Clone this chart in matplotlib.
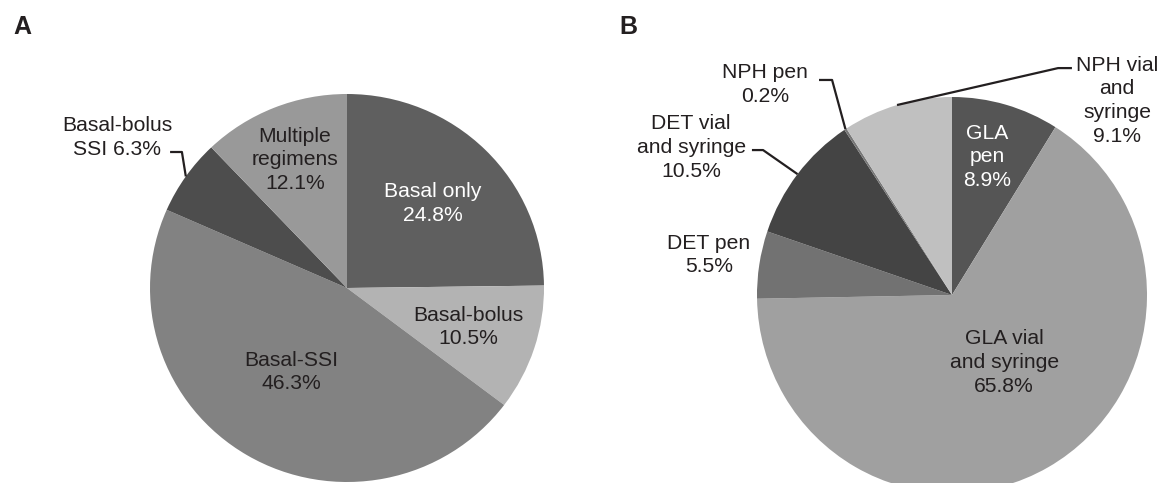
import numpy as np
import matplotlib
matplotlib.use("Agg")
import matplotlib.pyplot as plt

plt.rcParams['font.family'] = ['Liberation Sans', 'DejaVu Sans']

# ---- data ----
a_labels = ["Basal only", "Basal-bolus", "Basal-SSI", "Basal-bolus\nSSI", "Multiple\nregimens"]
a_values = [24.8, 10.5, 46.3, 6.3, 12.1]
a_colors = ["#5f5f5f", "#b3b3b3", "#828282", "#4d4d4d", "#999999"]

b_labels = ["GLA\npen", "GLA vial\nand syringe", "DET pen", "DET vial\nand syringe", "NPH pen", "NPH vial\nand\nsyringe"]
b_values = [8.9, 65.8, 5.5, 10.5, 0.2, 9.1]
b_colors = ["#555555", "#a0a0a0", "#727272", "#444444", "#777777", "#c0c0c0"]

FS = 15.2
LS = 1.33
TXT = "#231f20"

fig = plt.figure(figsize=(11.61, 4.83), dpi=100)

def pie_axes(rect, values, colors):
    ax = fig.add_axes(rect)
    wedges, _ = ax.pie(values, colors=colors, startangle=90, counterclock=False,
                       radius=1, wedgeprops=dict(linewidth=0))
    ax.set_xlim(-1, 1)
    ax.set_ylim(-1, 1)
    ax.set_aspect('auto')
    ax.axis('off')
    return ax, wedges

def mid_edge(w):
    th = np.deg2rad((w.theta1 + w.theta2) / 2)
    return np.cos(th), np.sin(th)

def lab(ax, x, y, s, color=TXT):
    ax.text(x, y, s, color=color, ha="center", va="center", fontsize=FS, linespacing=LS)

# ---- panel A ----
axA, wA = pie_axes([150/1161, 1/483, 394/1161, 388/483], a_values, a_colors)
lab(axA, 0.437, 0.438, f"{a_labels[0]}\n{a_values[0]}%", "white")
lab(axA, 0.614, -0.201, f"{a_labels[1]}\n{a_values[1]}%")
lab(axA, -0.284, -0.433, f"{a_labels[2]}\n{a_values[2]}%")
lab(axA, -0.264, 0.660, f"{a_labels[4]}\n{a_values[4]}%")
lab(axA, -1.168, 0.778, f"{a_labels[3]} {a_values[3]}%")
ex, ey = mid_edge(wA[3])
axA.plot([-0.898, -0.838, ex], [0.701, 0.701, ey], color=TXT, lw=1.6, clip_on=False, solid_capstyle='butt')

# ---- panel B ----
axB, wB = pie_axes([757/1161, -10/483, 390/1161, 396/483], b_values, b_colors)
lab(axB, 0.179, 0.697, f"{b_labels[0]}\n{b_values[0]}%", "white")
lab(axB, 0.267, -0.343, f"{b_labels[1]}\n{b_values[1]}%")
lab(axB, -1.246, 0.202, f"{b_labels[2]}\n{b_values[2]}%")
lab(axB, -1.338, 0.747, f"{b_labels[3]}\n{b_values[3]}%")
lab(axB, -0.959, 1.061, f"{b_labels[4]}\n{b_values[4]}%")
lab(axB, 0.846, 0.980, f"{b_labels[5]}\n{b_values[5]}%")

ex, ey = mid_edge(wB[3])
axB.plot([-1.026, -0.969, ex], [0.732, 0.732, ey], color=TXT, lw=1.6, clip_on=False, solid_capstyle='butt')
ex, ey = mid_edge(wB[4])
axB.plot([-0.682, -0.615, ex], [1.086, 1.086, ey], color=TXT, lw=1.6, clip_on=False, solid_capstyle='butt')
ex, ey = mid_edge(wB[5])
axB.plot([ex, 0.544, 0.615], [ey, 1.146, 1.146], color=TXT, lw=1.6, clip_on=False, solid_capstyle='butt')

# panel letters
fig.text(22/1161, 1 - 27/483, "A", fontsize=18, fontweight="bold", ha="center", va="center", color=TXT)
fig.text(628/1161, 1 - 27/483, "B", fontsize=18, fontweight="bold", ha="center", va="center", color=TXT)

fig.savefig("out.png", dpi=100)
